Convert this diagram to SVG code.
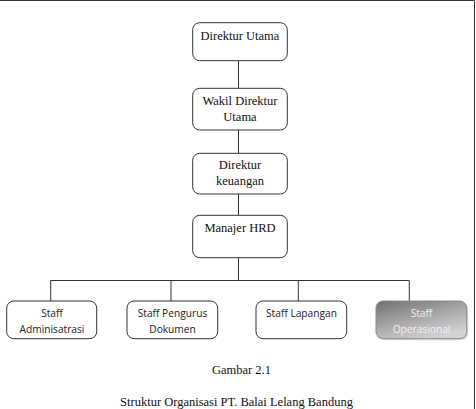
<svg xmlns="http://www.w3.org/2000/svg" width="476" height="409" viewBox="0 0 476 409">
<defs>
<style>
.box{fill:#fff;stroke:#333;stroke-width:1}
.t{font-family:"Liberation Serif","Times New Roman",serif;font-size:12.5px;fill:#111;text-anchor:middle}
.s{font-family:"Open Sans","Liberation Sans",sans-serif;font-size:10.2px;fill:#222;text-anchor:middle}
.w{fill:#f2f2f2}
.c{stroke:#333;stroke-width:1;fill:none}
</style>
<linearGradient id="g" x1="0" y1="0" x2="0.6" y2="1">
<stop offset="0" stop-color="#707070"/>
<stop offset="0.55" stop-color="#a8a8a8"/>
<stop offset="1" stop-color="#d2d2d2"/>
</linearGradient>
</defs>
<rect width="476" height="409" fill="#fff"/>
<path d="M0 0.5H474.5V409" class="c" stroke-width="1.5"/>
<g id="connectors">
<path class="c" d="M238.5 60.7V88.3M238.5 130V153.3M238.5 194V215.3M238.5 257.7V280.5M50.7 280.5H409.3M50.7 280.5V301M171 280.5V301M298.3 280.5V301M409.3 280.5V301"/>
</g>
<g id="direktur-utama">
<rect class="box" x="192.7" y="22.7" width="94.6" height="38" rx="7"/>
<text class="t" x="240" y="39.5">Direktur Utama</text>
</g>
<g id="wakil-direktur">
<rect class="box" x="192.7" y="88.3" width="94.6" height="41.7" rx="7"/>
<text class="t" x="240" y="104.5">Wakil Direktur</text>
<text class="t" x="240" y="120.5">Utama</text>
</g>
<g id="direktur-keuangan">
<rect class="box" x="192.7" y="153.3" width="94.6" height="40.7" rx="7"/>
<text class="t" x="240" y="169.3">Direktur</text>
<text class="t" x="240" y="185">keuangan</text>
</g>
<g id="manajer-hrd">
<rect class="box" x="192.7" y="215.3" width="94.6" height="42.4" rx="7"/>
<text class="t" x="240" y="232.3">Manajer HRD</text>
</g>
<g id="staff-administrasi">
<rect class="box" x="6.7" y="301" width="90" height="37.7" rx="7"/>
<text class="s" x="52" y="317.3">Staff</text>
<text class="s" x="52" y="332.7">Adminisatrasi</text>
</g>
<g id="staff-pengurus">
<rect class="box" x="127" y="301" width="90.7" height="37.7" rx="7"/>
<text class="s" x="172.5" y="317.3">Staff Pengurus</text>
<text class="s" x="172.5" y="332.7">Dokumen</text>
</g>
<g id="staff-lapangan">
<rect class="box" x="256" y="301" width="90.7" height="37.7" rx="7"/>
<text class="s" x="301.5" y="317.3">Staff Lapangan</text>
</g>
<g id="staff-operasional">
<rect x="377.5" y="302.5" width="90.7" height="37.7" rx="7" fill="#d8d8d8"/>
<rect x="376" y="301" width="90.7" height="37.7" rx="7" fill="url(#g)" stroke="#8a8a8a" stroke-width="1"/>
<text class="s w" x="421.5" y="317.3">Staff</text>
<text class="s w" x="421.5" y="332.7">Operasional</text>
</g>
<text class="t" x="241.5" y="374">Gambar 2.1</text>
<text class="t" x="236.5" y="405.5">Struktur Organisasi PT. Balai Lelang Bandung</text>
</svg>
